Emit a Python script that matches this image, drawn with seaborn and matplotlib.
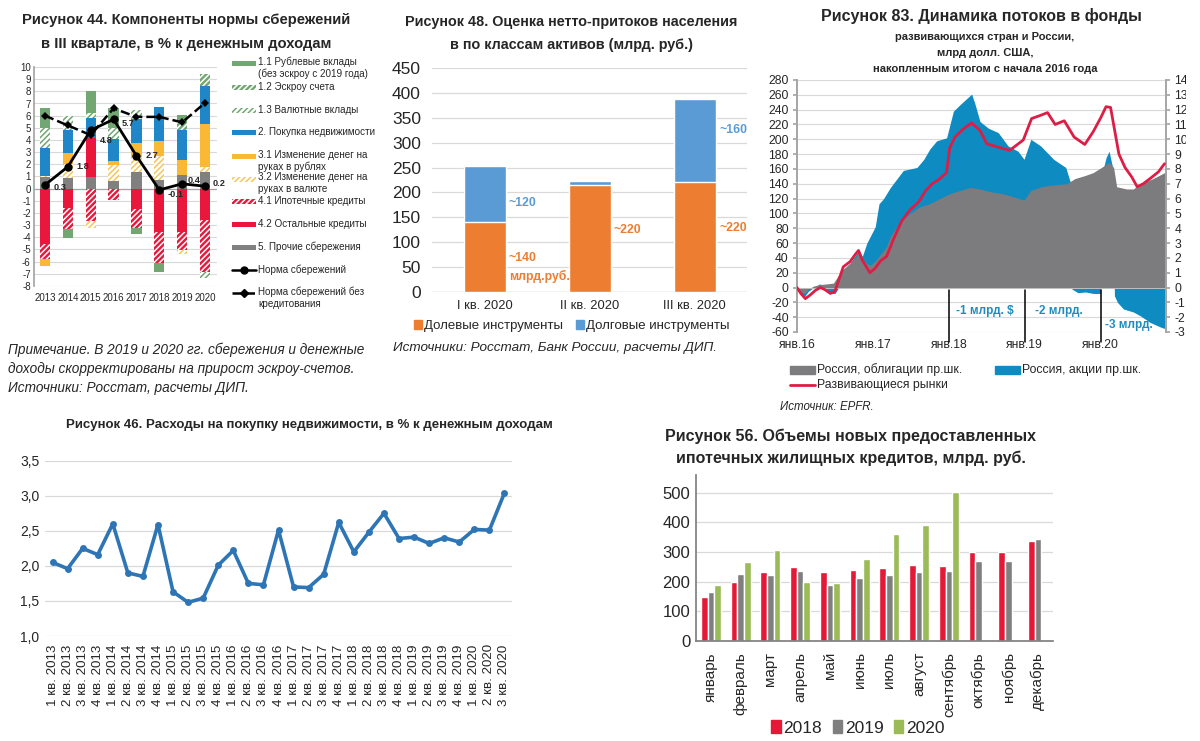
import numpy as np
import pandas as pd
import matplotlib
matplotlib.use("Agg")
import matplotlib.pyplot as plt
import seaborn as sns
from matplotlib.patches import Rectangle
from matplotlib.lines import Line2D
from matplotlib.transforms import Bbox, TransformedBbox

sns.set_theme(style="white")
plt.rcParams['font.family'] = ['Liberation Sans', 'DejaVu Sans']
plt.rcParams['hatch.linewidth'] = 1.1
plt.rcParams['axes.unicode_minus'] = False

# ---------------- данные: Рисунок 44 ----------------
years44 = ['2013', '2014', '2015', '2016', '2017', '2018', '2019', '2020']
s11_rub = [1.65, -0.7, 1.85, 1.6, -0.5, -0.7, 0.55, 0.0]
s12_escrow = [0, 0, 0, 0, 0, 0, 0.7, 1.05]
s13_val = [1.65, 1.15, 0.4, 0.9, 0.7, 0, 0, -0.5]
s2_nedv = [2.3, 1.85, 1.65, 1.8, 2.0, 2.75, 2.45, 3.1]
s31_rub_cash = [-0.6, 0.95, 0, 0.35, 1.15, 1.25, 1.25, 3.55]
s32_val_cash = [0.1, 1.15, -0.6, 1.3, 1.2, 1.95, -0.3, 0.35]
s41_ipoteka = [-1.2, -1.8, -2.65, -0.95, -1.55, -2.6, -1.5, -4.25]
s42_kredity = [-4.55, -1.55, 3.15, 0, -1.65, -3.55, -3.55, -2.6]
s5_prochie = [0.95, 0.85, 1.0, 0.65, 1.4, 0.75, 1.1, 1.4]
norma = [0.3, 1.8, 4.8, 5.7, 2.7, -0.1, 0.4, 0.2]
norma_bez_kred = [6.0, 5.2, 4.4, 6.6, 5.9, 5.9, 5.45, 7.05]

# ---------------- данные: Рисунок 48 ----------------
kvartaly48 = ['I кв. 2020', 'II кв. 2020', 'III кв. 2020']
dolevye = [141, 214, 220]
dolgovye = [113, 8, 168]

# ---------------- данные: Рисунок 83 ----------------
# развивающиеся рынки, млрд долл. (левая ось)
t_em = [2016.00, 2016.05, 2016.11, 2016.175, 2016.24, 2016.31, 2016.37, 2016.44, 2016.50,
        2016.55, 2016.61, 2016.70, 2016.77, 2016.81, 2016.855, 2016.96, 2017.03, 2017.10,
        2017.18, 2017.27, 2017.38, 2017.49, 2017.60, 2017.69, 2017.78, 2017.86, 2017.97,
        2018.01, 2018.08, 2018.19, 2018.30, 2018.41, 2018.50, 2018.63, 2018.80, 2018.98,
        2019.09, 2019.20, 2019.30, 2019.40, 2019.52, 2019.65, 2019.79, 2019.90, 2020.00,
        2020.07, 2020.13, 2020.17, 2020.24, 2020.32, 2020.41, 2020.48, 2020.56, 2020.65,
        2020.76, 2020.84]
em = [0, -8, -15, -10, -4, 0, -3, -8, -5,
      10, 28, 35, 45, 50, 38, 20, 26, 36,
      42, 65, 90, 105, 115, 130, 140, 145, 155,
      188, 203, 214, 222, 212, 194, 190, 185, 199,
      228, 232, 236, 220, 225, 203, 193, 210, 229,
      244, 243, 220, 180, 162, 149, 136, 140, 147,
      156, 167]
# Россия, облигации, млрд долл. (правая ось)
t_obl = [2016.00, 2016.05, 2016.10, 2016.15, 2016.22, 2016.30, 2016.40, 2016.48, 2016.53,
         2016.60, 2016.70, 2016.78, 2016.81, 2016.86, 2016.92, 2016.97, 2017.05, 2017.10,
         2017.18, 2017.23, 2017.36, 2017.49, 2017.62, 2017.75, 2017.88, 2018.02, 2018.15,
         2018.28, 2018.41, 2018.56, 2018.69, 2018.80, 2018.99, 2019.08, 2019.22, 2019.33,
         2019.55, 2019.66, 2019.79, 2019.90, 2020.01, 2020.11, 2020.17, 2020.21, 2020.34,
         2020.43, 2020.52, 2020.69, 2020.86]
obligacii = [0, -0.3, -0.4, -0.1, 0.1, 0.2, 0.25, 0.3, 0.7,
             1.2, 1.65, 2.1, 2.4, 2.0, 1.6, 1.5, 1.9, 2.25,
             2.75, 3.45, 4.45, 5.0, 5.45, 5.65, 6.0, 6.35, 6.55,
             6.75, 6.65, 6.45, 6.35, 6.2, 5.9, 6.55, 6.8, 6.9,
             7.0, 7.35, 7.55, 7.75, 8.1, 8.45, 8.1, 6.8, 6.65,
             6.65, 7.0, 7.35, 7.8]
# Россия, акции, млрд долл. (правая ось)
t_akc = [2016.00, 2016.05, 2016.10, 2016.15, 2016.22, 2016.30, 2016.37, 2016.44, 2016.50,
         2016.55, 2016.60, 2016.70, 2016.78, 2016.82, 2016.86, 2016.92, 2017.03, 2017.08,
         2017.14, 2017.23, 2017.40, 2017.58, 2017.67, 2017.75, 2017.84, 2017.97, 2018.06,
         2018.15, 2018.30, 2018.34, 2018.41, 2018.52, 2018.65, 2018.78, 2018.91, 2018.99,
         2019.08, 2019.21, 2019.38, 2019.54, 2019.60, 2019.62, 2019.70, 2019.80, 2019.90,
         2020.00, 2020.01, 2020.07, 2020.11, 2020.15, 2020.17, 2020.18, 2020.22, 2020.30,
         2020.43, 2020.52, 2020.65, 2020.78, 2020.86]
akcii = [0, -0.4, -0.6, -0.25, 0, 0.25, 0, -0.4, -0.4,
         0, 1.1, 1.65, 2.25, 2.5, 2.1, 3.0, 4.1, 5.65,
         6.0, 6.75, 7.9, 8.1, 8.65, 9.35, 9.9, 10.1, 11.9,
         12.35, 13.05, 12.45, 11.2, 10.75, 10.45, 9.55, 9.2, 8.65,
         10.0, 9.55, 8.65, 8.1, 7.1, -0.1, -0.35, -0.3, -0.4,
         -0.4, 7.5, 8.75, 9.2, 8.25, 7.5, -0.55, -1.0, -1.45,
         -1.65, -1.9, -2.35, -2.65, -2.8]

# ---------------- данные: Рисунок 46 ----------------
kvartaly46 = [f'{q} кв. {y}' for y in range(2013, 2021) for q in range(1, 5)][:31]
nedvizhimost = [2.05, 1.96, 2.25, 2.16, 2.60, 1.90, 1.85, 2.59, 1.63, 1.48, 1.54, 2.01,
                2.22, 1.75, 1.73, 2.51, 1.70, 1.69, 1.88, 2.62, 2.20, 2.48, 2.75, 2.39,
                2.41, 2.32, 2.40, 2.34, 2.52, 2.51, 3.04]

# ---------------- данные: Рисунок 56 ----------------
mesyacy = ['январь', 'февраль', 'март', 'апрель', 'май', 'июнь', 'июль', 'август',
           'сентябрь', 'октябрь', 'ноябрь', 'декабрь']
ipoteka_2018 = [147, 198, 234, 248, 234, 239, 246, 258, 252, 299, 299, 338]
ipoteka_2019 = [166, 225, 221, 237, 188, 212, 221, 233, 236, 270, 270, 345]
ipoteka_2020 = [189, 266, 306, 199, 197, 275, 360, 391, 502, np.nan, np.nan, np.nan]

W, H = 1200, 741


def fx(px):
    return px / W


def fy(py):
    return 1 - py / H


def rect(left, top, right, bottom):
    return [fx(left), fy(bottom), (right - left) / W, (bottom - top) / H]


fig = plt.figure(figsize=(12, 7.41), dpi=100)
GRID = '#D9D9D9'

# ======================= Рисунок 44 =======================
ax1 = fig.add_axes(rect(33.5, 67, 216.5, 286))
x44 = np.arange(len(years44))
styles44 = [
    (s5_prochie, '#808080', None, None),
    (s42_kredity, '#E8173B', None, None),
    (s41_ipoteka, '#E8173B', 'white', '//////'),
    (s32_val_cash, 'white', '#F4C65A', '//////'),
    (s31_rub_cash, '#F9B934', None, None),
    (s2_nedv, '#1F86C8', None, None),
    (s13_val, 'white', '#72A672', '//////'),
    (s12_escrow, '#72A672', 'white', '//////'),
    (s11_rub, '#72A672', None, None),
]
pos = np.zeros(len(years44))
neg = np.zeros(len(years44))
for vals, face, hcol, hatch in styles44:
    v = np.array(vals, dtype=float)
    bottom = np.where(v >= 0, pos, neg)
    ax1.bar(x44, v, bottom=bottom, width=0.45, color=face,
            edgecolor=hcol if hcol else face, hatch=hatch, linewidth=0, zorder=2)
    pos = pos + np.where(v > 0, v, 0)
    neg = neg + np.where(v < 0, v, 0)

sns.lineplot(x=x44, y=norma_bez_kred, ax=ax1, color='black', lw=1.8, linestyle='--',
             marker='D', markersize=4.5, markeredgewidth=0, zorder=4)
sns.lineplot(x=x44, y=norma, ax=ax1, color='black', lw=2.0,
             marker='o', markersize=6, markeredgewidth=0, zorder=5)
offsets44 = [(9, -2), (9, 0), (9, -10), (8, -4), (9, 0), (8, -5), (5, 3), (8, 3)]
for xi, yi, (dx, dy) in zip(x44, norma, offsets44):
    ax1.annotate(f'{yi:.1f}', (xi, yi), xytext=(dx, dy), textcoords='offset pixels',
                 ha='left', va='center', fontsize=6.6, fontweight='bold', zorder=6)

ax1.set_xlim(-0.5, 7.5)
ax1.set_ylim(-8, 10)
ax1.set_yticks(range(-8, 11))
ax1.set_xticks(x44)
ax1.set_xticklabels(years44)
ax1.tick_params(axis='both', labelsize=7, length=0, pad=2)
ax1.tick_params(axis='x', pad=5)
ax1.yaxis.grid(True, color=GRID, lw=0.8)
ax1.set_axisbelow(True)
for s in ['top', 'right', 'bottom']:
    ax1.spines[s].set_visible(False)
ax1.spines['left'].set_color('#A6A6A6')
ax1.axhline(0, color='#A6A6A6', lw=0.9, zorder=1)

fig.text(fx(186), fy(20), 'Рисунок 44. Компоненты нормы сбережений', ha='center', va='center',
         fontsize=10.6, fontweight='bold')
fig.text(fx(186), fy(44), 'в III квартале, в % к денежным доходам', ha='center', va='center',
         fontsize=10.6, fontweight='bold')

legend44 = [
    ('1.1 Рублевые вклады\n(без эскроу с 2019 года)', '#72A672', None, None),
    ('1.2 Эскроу счета', '#72A672', 'white', '//////'),
    ('1.3 Валютные вклады', 'white', '#72A672', '//////'),
    ('2. Покупка недвижимости', '#1F86C8', None, None),
    ('3.1 Изменение денег на\nруках в рублях', '#F9B934', None, None),
    ('3.2 Изменение денег на\nруках в валюте', 'white', '#F4C65A', '//////'),
    ('4.1 Ипотечные кредиты', '#E8173B', 'white', '//////'),
    ('4.2 Остальные кредиты', '#E8173B', None, None),
    ('5. Прочие сбережения', '#808080', None, None),
    ('Норма сбережений', 'line', '-', 'o'),
    ('Норма сбережений без\nкредитования', 'line', '--', 'D'),
]
leg_y = [63, 87, 110, 132, 156, 179, 201, 224, 247, 270, 293]
for (lab, face, hcol, hatch), yy in zip(legend44, leg_y):
    if face == 'line':
        fig.add_artist(Line2D([fx(232), fx(256)], [fy(yy), fy(yy)], color='black',
                              lw=1.8, linestyle=hcol, transform=fig.transFigure))
        fig.add_artist(Line2D([fx(244)], [fy(yy)], color='black', marker=hatch,
                              markersize=5 if hatch == 'o' else 4.5, transform=fig.transFigure))
    else:
        fig.add_artist(Rectangle((fx(232), fy(yy + 2.5)), fx(24), 5 / H, facecolor=face,
                                 edgecolor=hcol if hcol else face, hatch=hatch, lw=0,
                                 transform=fig.transFigure))
    if '\n' in lab:
        fig.text(fx(258), fy(yy - 6.5), lab, ha='left', va='top', fontsize=7.1, linespacing=1.2)
    else:
        fig.text(fx(258), fy(yy), lab, ha='left', va='center', fontsize=7.1)

for i, line in enumerate(['Примечание. В 2019 и 2020 гг. сбережения и денежные',
                          'доходы скорректированы на прирост эскроу-счетов.',
                          'Источники: Росстат, расчеты ДИП.']):
    fig.text(fx(8), fy(350 + 19 * i), line, ha='left', va='center', fontsize=9.8, style='italic')

# ======================= Рисунок 48 =======================
ax2 = fig.add_axes(rect(432, 68, 747, 292))
totals48 = [a + b for a, b in zip(dolevye, dolgovye)]
sns.barplot(x=kvartaly48, y=totals48, ax=ax2, color='#5B9BD5', saturation=1, width=0.4,
            errorbar=None, zorder=2)
sns.barplot(x=kvartaly48, y=dolevye, ax=ax2, color='#ED7D31', saturation=1, width=0.4,
            errorbar=None, zorder=3)
ax2.set_ylim(0, 450)
ax2.set_yticks(range(0, 451, 50))
ax2.yaxis.grid(True, color=GRID, lw=0.9)
ax2.set_axisbelow(True)
sns.despine(ax=ax2, left=True, bottom=True)
ax2.axhline(0, color='#BFBFBF', lw=0.9)
ax2.tick_params(axis='y', labelsize=12.5, length=0, pad=8)
ax2.tick_params(axis='x', labelsize=9.3, length=0, pad=6)
ax2.set_xlabel('')
BLUE_T, ORANGE_T = '#5B9BD5', '#ED7D31'
ann48 = [(0.23, 179, '~120', BLUE_T), (0.23, 68, '~140', ORANGE_T),
         (0.23, 32, 'млрд.руб.', ORANGE_T), (1.23, 125, '~220', ORANGE_T),
         (2.24, 325, '~160', BLUE_T), (2.24, 129, '~220', ORANGE_T)]
for xx, yy, txt, col in ann48:
    ax2.text(xx, yy, txt, color=col, fontsize=8.8, fontweight='bold', ha='left', va='center')
ax2.legend(handles=[Rectangle((0, 0), 1, 1, color='#ED7D31'), Rectangle((0, 0), 1, 1, color='#5B9BD5')],
           labels=['Долевые инструменты', 'Долговые инструменты'], ncol=2, frameon=False,
           loc='center', bbox_to_anchor=(fx(572), fy(326)), bbox_transform=fig.transFigure,
           fontsize=9.5, handlelength=0.6, handleheight=0.6, handletextpad=0.15, columnspacing=1.0)
fig.text(fx(571), fy(22), 'Рисунок 48. Оценка нетто-притоков населения', ha='center', va='center',
         fontsize=10.4, fontweight='bold')
fig.text(fx(571), fy(45), 'в по классам активов (млрд. руб.)', ha='center', va='center',
         fontsize=10.4, fontweight='bold')
fig.text(fx(393), fy(348), 'Источники: Росстат, Банк России, расчеты ДИП.', ha='left', va='center',
         fontsize=9.7, style='italic')

# ======================= Рисунок 83 =======================
ax3 = fig.add_axes(rect(797, 80, 1166, 332))
ax3r = ax3.twinx()
ax3.set_zorder(ax3r.get_zorder() + 1)
ax3.patch.set_visible(False)
ax3r.fill_between(t_akc, akcii, 0, color='#0E8BC1', lw=0, zorder=2)
ax3r.fill_between(t_obl, obligacii, 0, color='#7C7C7E', lw=0, zorder=3)
ax3r.set_ylim(-3, 14)
ax3r.set_yticks(range(-3, 15))
ax3r.yaxis.grid(True, color=GRID, lw=0.8)
ax3r.set_axisbelow(True)
sns.lineplot(x=t_em, y=em, ax=ax3, color='#DC1E46', lw=2.0, zorder=4)
ax3.set_ylim(-60, 280)
ax3.set_yticks(range(-60, 281, 20))
ax3.set_xlim(2016.0, 2020.86)
ax3.set_xticks([2016, 2017, 2018, 2019, 2020])
ax3.set_xticklabels(['янв.16', 'янв.17', 'янв.18', 'янв.19', 'янв.20'])
for a in (ax3, ax3r):
    a.tick_params(axis='both', labelsize=8.7, length=3, color='#A6A6A6', pad=3)
    for s in ['top', 'bottom']:
        a.spines[s].set_visible(False)
    a.spines['left'].set_color('#A6A6A6')
    a.spines['right'].set_color('#A6A6A6')
ax3.tick_params(axis='x', length=0, pad=5)
ax3.axhline(0, color='#BFBFBF', lw=0.7, zorder=1)
# правая шкала обрезана краем исходной картинки
cut = TransformedBbox(Bbox([[0, 0], [fx(1186), 1]]), fig.transFigure)
for lab in ax3r.get_yticklabels():
    lab.set_clip_box(cut)
    lab.set_clip_on(True)
for yr in [2018, 2019, 2020]:
    ax3.plot([yr, yr], [-3, -74], color='black', lw=1.1, clip_on=False, zorder=5)
ax3_cut = TransformedBbox(Bbox([[0, 0], [fx(1166), 1]]), fig.transFigure)
for xx, yy, txt in [(2018.47, -31, '-1 млрд. $'), (2019.45, -31, '-2 млрд.'), (2020.37, -51, '-3 млрд.')]:
    t = ax3.text(xx, yy, txt, color='#1E8CC0', fontsize=8.5, fontweight='bold', ha='center',
                 va='center', zorder=6)
    t.set_clip_box(ax3_cut)
    t.set_clip_on(True)

fig.text(fx(981), fy(16), 'Рисунок 83. Динамика потоков в фонды', ha='center', va='center',
         fontsize=11.5, fontweight='bold')
for i, line in enumerate(['развивающихся стран и России,', 'млрд долл. США,',
                          'накопленным итогом с начала 2016 года']):
    fig.text(fx(985), fy(37 + 16 * i), line, ha='center', va='center', fontsize=8, fontweight='bold')
fig.add_artist(Rectangle((fx(790), fy(374)), fx(25), 8 / H, color='#7C7C7E', transform=fig.transFigure))
fig.text(fx(817), fy(370), 'Россия, облигации пр.шк.', ha='left', va='center', fontsize=8.8)
fig.add_artist(Rectangle((fx(995), fy(374)), fx(25), 8 / H, color='#0E8BC1', transform=fig.transFigure))
fig.text(fx(1022), fy(370), 'Россия, акции пр.шк.', ha='left', va='center', fontsize=8.8)
fig.add_artist(Line2D([fx(790), fx(815)], [fy(385), fy(385)], color='#DC1E46', lw=2,
                      transform=fig.transFigure))
fig.text(fx(817), fy(385), 'Развивающиеся рынки', ha='left', va='center', fontsize=8.8)
fig.text(fx(780), fy(407), 'Источник: EPFR.', ha='left', va='center', fontsize=8.3, style='italic')

# ======================= Рисунок 46 =======================
ax4 = fig.add_axes(rect(45, 460.7, 512, 636))
x46 = np.arange(len(kvartaly46))
sns.lineplot(x=x46, y=nedvizhimost, ax=ax4, color='#2E75B6', lw=2.6, marker='o',
             markersize=5, markeredgewidth=0)
ax4.set_xlim(-0.5, len(kvartaly46) - 0.5)
ax4.set_ylim(1.0, 3.5)
ax4.set_yticks([1.0, 1.5, 2.0, 2.5, 3.0, 3.5])
ax4.set_yticklabels(['1,0', '1,5', '2,0', '2,5', '3,0', '3,5'])
ax4.set_xticks(x46)
ax4.set_xticklabels(kvartaly46, rotation=90)
ax4.tick_params(axis='y', labelsize=10, length=0, pad=4)
ax4.tick_params(axis='x', labelsize=9.6, length=0, pad=6)
ax4.yaxis.grid(True, color=GRID, lw=0.9)
ax4.set_axisbelow(True)
sns.despine(ax=ax4, left=True, bottom=True)
fig.text(fx(309), fy(425), 'Рисунок 46. Расходы на покупку недвижимости, в % к денежным доходам',
         ha='center', va='center', fontsize=9.5, fontweight='bold')

# ======================= Рисунок 56 =======================
ax5 = fig.add_axes(rect(696, 475, 1053, 641))
df56 = pd.DataFrame({
    'месяц': mesyacy * 3,
    'год': ['2018'] * 12 + ['2019'] * 12 + ['2020'] * 12,
    'объем': ipoteka_2018 + ipoteka_2019 + ipoteka_2020,
})
pal56 = {'2018': '#E31937', '2019': '#7F7F7F', '2020': '#9BBB59'}
sns.barplot(data=df56, x='месяц', y='объем', hue='год', order=mesyacy,
            hue_order=['2018', '2019', '2020'], palette=pal56, saturation=1, width=0.67,
            errorbar=None, ax=ax5, legend=False, zorder=2)
ax5.set_ylim(0, 560)
ax5.set_yticks(range(0, 501, 100))
ax5.set_xlim(-0.5, 11.5)
ax5.yaxis.grid(True, color=GRID, lw=0.9)
ax5.set_axisbelow(True)
for s in ['top', 'right']:
    ax5.spines[s].set_visible(False)
ax5.spines['left'].set_color('#808080')
ax5.spines['bottom'].set_color('#808080')
ax5.set_xlabel('')
ax5.set_ylabel('')
ax5.set_xticks(np.arange(-0.5, 12, 1), minor=True)
ax5.tick_params(axis='x', which='minor', length=5, color='#808080', direction='out')
ax5.tick_params(axis='x', which='major', length=0, pad=8, labelsize=11, rotation=90)
ax5.tick_params(axis='y', length=0, labelsize=12, pad=4)
ax5.legend(handles=[Rectangle((0, 0), 1, 1, color=pal56[k]) for k in ['2018', '2019', '2020']],
           labels=['2018', '2019', '2020'], ncol=3, frameon=False, loc='center',
           bbox_to_anchor=(fx(858), fy(728)), bbox_transform=fig.transFigure,
           fontsize=12.5, handlelength=0.55, handleheight=0.7,
           handletextpad=0.15, columnspacing=0.6)
fig.text(fx(851), fy(436), 'Рисунок 56. Объемы новых предоставленных', ha='center', va='center',
         fontsize=11.5, fontweight='bold')
fig.text(fx(851), fy(458), 'ипотечных жилищных кредитов, млрд. руб.', ha='center', va='center',
         fontsize=11.5, fontweight='bold')

fig.savefig('out.png', dpi=100)
